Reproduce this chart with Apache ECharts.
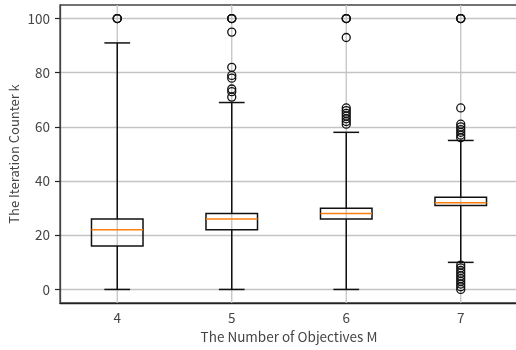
<!DOCTYPE html>
<html>
<head>
<meta charset="utf-8">
<script src="https://cdn.jsdelivr.net/npm/echarts@6/dist/echarts.min.js"></script>
<style>html,body{margin:0;padding:0;background:#fff;}#c{width:516px;height:350px;}</style>
</head>
<body>
<div id="c"></div>
<script>
const categories = ['4', '5', '6', '7'];
const whiskerLow = [0, 0, 0, 10];
const q1 = [16, 22, 26, 31];
const median = [22, 26, 28, 32];
const q3 = [26, 28, 30, 34];
const whiskerHigh = [91, 69, 58, 55];
const outliers4 = [100, 100, 100];
const outliers5 = [100, 100, 100, 95, 82, 79, 78, 74, 73, 71];
const outliers6 = [100, 100, 100, 93, 67, 66, 65, 64, 63, 62, 61];
const outliers7 = [100, 100, 100, 67, 61, 60, 59, 58, 57, 56, 9, 8, 7, 6, 5, 4, 3, 2, 1, 0];
const yTicks = [0, 20, 40, 60, 80, 100];

const allOutliers = [outliers4, outliers5, outliers6, outliers7];
const boxData = categories.map((c, i) => [i, whiskerLow[i], q1[i], median[i], q3[i], whiskerHigh[i]]);
const flierData = [];
allOutliers.forEach((arr, i) => arr.forEach(v => flierData.push([i, v])));

const FONT = '"Noto Sans CJK JP", "Noto Sans", sans-serif';
const TXT = '#444';
const GRID = '#c4c4c4';
const chart = echarts.init(document.getElementById('c'), null, {renderer: 'canvas'});
chart.setOption({
  animation: false,
  backgroundColor: '#fff',
  grid: {left: 60, right: -2, top: 5, bottom: 47, show: true, borderColor: '#444', borderWidth: 1.3, backgroundColor: 'transparent', containLabel: false, outerBoundsMode: 'none'},
  xAxis: {
    type: 'category',
    data: categories,
    boundaryGap: true,
    name: 'The Number of Objectives M',
    nameLocation: 'middle',
    nameGap: 27,
    nameMoveOverlap: false,
    nameTextStyle: {fontFamily: FONT, fontSize: 13.5, color: TXT},
    axisLine: {onZero: false, lineStyle: {color: '#222', width: 1.3}},
    axisTick: {alignWithLabel: true, length: 5, lineStyle: {color: '#222', width: 1.2}},
    axisLabel: {fontFamily: FONT, fontSize: 13.5, color: TXT, margin: 8},
    splitLine: {show: false}
  },
  yAxis: {
    type: 'value',
    min: -5,
    max: 105,
    name: 'The Iteration Counter k',
    nameLocation: 'middle',
    nameGap: 39,
    nameMoveOverlap: false,
    nameTextStyle: {fontFamily: FONT, fontSize: 13, color: TXT},
    axisLine: {show: true, lineStyle: {color: '#444', width: 1.3}},
    axisTick: {show: true, length: 5, customValues: yTicks, lineStyle: {color: '#222', width: 1.2}},
    axisLabel: {fontFamily: FONT, fontSize: 13.5, color: TXT, margin: 10, customValues: yTicks},
    splitLine: {show: true, lineStyle: {color: GRID, width: 1.3}}
  },
  series: [
    {
      type: 'custom',
      data: boxData,
      z: 2,
      renderItem: function (params, api) {
        const x = api.value(0);
        const band = api.size([1, 0])[0];
        const bw = band * 0.45, cw = bw / 2;
        const pLo = api.coord([x, api.value(1)]);
        const pQ1 = api.coord([x, api.value(2)]);
        const pMed = api.coord([x, api.value(3)]);
        const pQ3 = api.coord([x, api.value(4)]);
        const pHi = api.coord([x, api.value(5)]);
        const cx = pLo[0];
        const cs = params.coordSys;
        const black = {stroke: '#111', lineWidth: 1.5, fill: null};
        return {
          type: 'group',
          children: [
            {type: 'line', shape: {x1: cx, y1: cs.y, x2: cx, y2: cs.y + cs.height}, style: {stroke: GRID, lineWidth: 1.3}},
            {type: 'line', shape: {x1: cx, y1: pLo[1], x2: cx, y2: pQ1[1]}, style: black},
            {type: 'line', shape: {x1: cx, y1: pQ3[1], x2: cx, y2: pHi[1]}, style: black},
            {type: 'line', shape: {x1: cx - cw / 2, y1: pLo[1], x2: cx + cw / 2, y2: pLo[1]}, style: black},
            {type: 'line', shape: {x1: cx - cw / 2, y1: pHi[1], x2: cx + cw / 2, y2: pHi[1]}, style: black},
            {type: 'rect', shape: {x: cx - bw / 2, y: pQ3[1], width: bw, height: pQ1[1] - pQ3[1]}, style: black},
            {type: 'line', shape: {x1: cx - bw / 2, y1: pMed[1], x2: cx + bw / 2, y2: pMed[1]}, style: {stroke: '#ff7f0e', lineWidth: 1.5}}
          ]
        };
      }
    },
    {
      type: 'scatter',
      data: flierData,
      z: 3,
      symbol: 'circle',
      symbolSize: 8,
      itemStyle: {color: 'rgba(0,0,0,0)', borderColor: '#111', borderWidth: 1.3, opacity: 1},
      emphasis: {disabled: true}
    }
  ]
});
</script>
</body>
</html>
